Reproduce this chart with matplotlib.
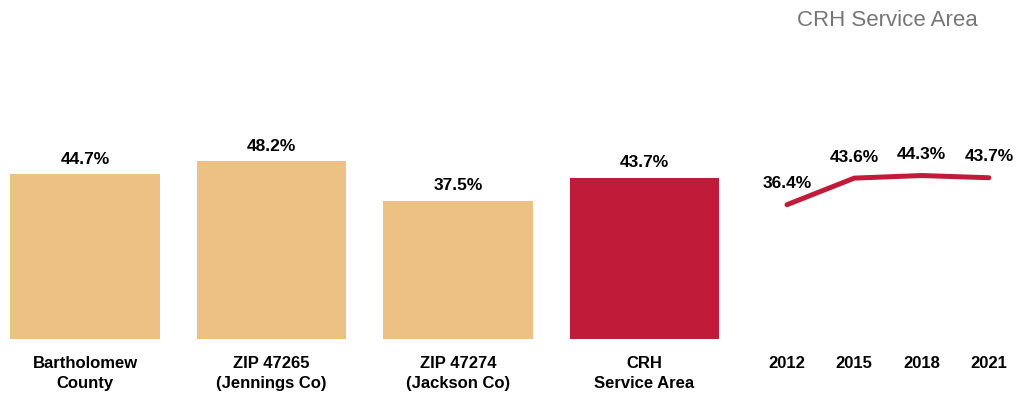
import matplotlib
matplotlib.use("Agg")
import matplotlib.pyplot as plt
from matplotlib import font_manager

categories = ["Bartholomew\nCounty", "ZIP 47265\n(Jennings Co)", "ZIP 47274\n(Jackson Co)", "CRH\nService Area"]
bar_values = [44.7, 48.2, 37.5, 43.7]
years = [2012, 2015, 2018, 2021]
trend_values = [36.4, 43.6, 44.3, 43.7]
title = "CRH Service Area"

names = {f.name for f in font_manager.fontManager.ttflist}
narrow = "Liberation Sans Narrow" if "Liberation Sans Narrow" in names else "Liberation Sans"

TAN = "#EDC183"
RED = "#C01C3A"

W, H = 1021, 397
fig = plt.figure(figsize=(W / 100, H / 100), dpi=100)

bottom = (H - 339) / H
top_px = 339 - 80 * 3.69
height = (339 - top_px) / H

# Bar axes
ax1 = fig.add_axes([0, bottom, 740 / W, height])
x = list(range(len(categories)))
colors = [TAN, TAN, TAN, RED]
ax1.bar(x, bar_values, width=0.804, color=colors)
ax1.set_xlim(-85 / 186.5, (740 - 85) / 186.5)
ax1.set_ylim(0, 80)
for xi, v in zip(x, bar_values):
    ax1.annotate(f"{v}%", (xi, v), xytext=(0, 15), textcoords="offset pixels",
                 ha="center", va="center", fontsize=12.5, fontweight="bold",
                 family=[narrow, "DejaVu Sans"])
ax1.set_xticks(x)
ax1.set_xticklabels(categories, fontsize=12, fontweight="bold",
                    family=[narrow, "DejaVu Sans"], linespacing=1.45)
ax1.tick_params(axis="x", length=0, pad=12)
ax1.set_yticks([])
for s in ax1.spines.values():
    s.set_visible(False)

# Line axes
ax2 = fig.add_axes([740 / W, bottom, (W - 740) / W, height])
ppy = 67.3 / 3
ax2.plot(years, trend_values, color=RED, lw=3.6, solid_capstyle="round")
ax2.set_xlim(2012 - 47 / ppy, 2012 + (W - 787) / ppy)
ax2.set_ylim(0, 80)
for xi, v in zip(years, trend_values):
    ax2.annotate(f"{v}%", (xi, v), xytext=(0, 21), textcoords="offset pixels",
                 ha="center", va="center", fontsize=12.5, fontweight="bold",
                 family=[narrow, "DejaVu Sans"])
ax2.set_xticks(years)
ax2.set_xticklabels([str(y) for y in years], fontsize=12, fontweight="bold",
                    family=[narrow, "DejaVu Sans"])
ax2.tick_params(axis="x", length=0, pad=12)
ax2.set_yticks([])
for s in ax2.spines.values():
    s.set_visible(False)

fig.text(978 / W, 1 - 20 / H, title, ha="right", va="center", fontsize=16,
         color="#767676", family=["Liberation Sans", "DejaVu Sans"])

fig.savefig("out.png", dpi=100)
